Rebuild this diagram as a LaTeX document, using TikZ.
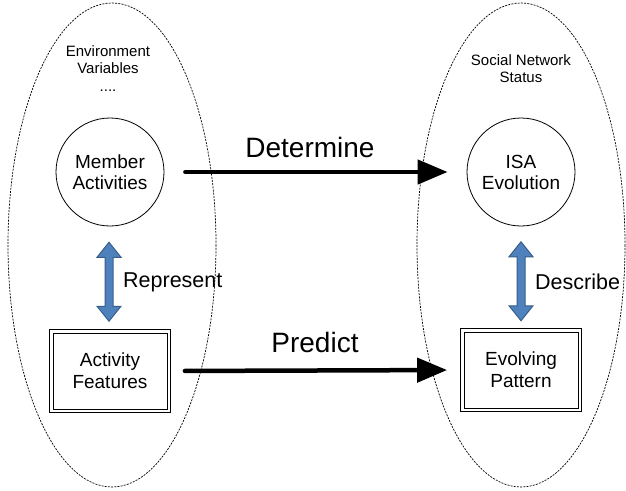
\documentclass[tikz,border=0pt]{standalone}
\usepackage{fontspec}
\setmainfont{Liberation Sans}
\usetikzlibrary{arrows.meta,calc}
\definecolor{arrowblue}{HTML}{4F81BD}
\definecolor{arrowedge}{HTML}{385D8A}
\begin{document}
\begin{tikzpicture}[x=1pt,y=-1pt,
  region/.style={draw, line width=0.7pt, dash pattern=on 2pt off 1.2pt},
  smalltext/.style={inner sep=0pt, align=center, font=\fontsize{15}{17.5}\selectfont},
  state/.style={circle, draw, line width=0.8pt, minimum size=108pt, inner sep=0pt, align=center, font=\fontsize{19}{21}\selectfont},
  feat/.style={draw, line width=0.8pt, minimum width=121pt, minimum height=83pt, inner sep=0pt, align=center, font=\fontsize{19}{22}\selectfont},
  innerframe/.style={draw, line width=0.8pt},
  biglabel/.style={inner sep=0pt, font=\fontsize{28}{32}\selectfont},
  sidelabel/.style={inner sep=0pt, font=\fontsize{21.5}{24}\selectfont},
  bigarrow/.style={line width=4.5pt, line cap=round, -{Triangle[length=30pt,width=24pt]}},
  dblarrow/.pic={\draw[fill=arrowblue, draw=arrowedge, line width=1pt, line join=miter]
    (0,-39.5) -- (12,-24.5) -- (4,-24.5) -- (4,24.5) -- (12,24.5) -- (0,39.5)
    -- (-12,24.5) -- (-4,24.5) -- (-4,-24.5) -- (-12,-24.5) -- cycle;}
]
\useasboundingbox (0,0) rectangle (626,490);
% regions
\draw[region] (112,245) ellipse [x radius=104, y radius=242];
\draw[region] (521,245) ellipse [x radius=104, y radius=242];
\node[smalltext, anchor=north] (env) at (108,45) {Environment\\Variables\\....};
\node[smalltext, anchor=north] (sns) at (521,54) {Social Network\\Status};
% nodes
\node[state] (ma) at (110,172) {Member\\Activities};
\node[state] (isa) at (521,172) {ISA\\Evolution};
\node[feat] (af) at (110,371) {Activity\\Features};
\draw[innerframe] ($(af.north west)+(4,4)$) rectangle ($(af.south east)+(-4,-4)$);
\node[feat] (ep) at (521,370) {Evolving\\Pattern};
\draw[innerframe] ($(ep.north west)+(4,4)$) rectangle ($(ep.south east)+(-4,-4)$);
% connectors
\draw[bigarrow, shorten <=21pt, shorten >=19pt] (ma) -- (isa);
\draw[bigarrow, shorten <=14pt, shorten >=13pt] (af.east) -- (ep.west);
\node[biglabel, anchor=base] (det) at (310,157) {Determine};
\node[biglabel, anchor=base] (pred) at (315,352) {Predict};
\pic at ($(ma.south)!0.5!(af.north)+(-1,4)$) {dblarrow};
\pic at ($(isa.south)!0.5!(ep.north)+(0,4)$) {dblarrow};
\node[sidelabel, anchor=base west] (rep) at (123,287) {Represent};
\node[sidelabel, anchor=base west] (desc) at (535,289) {Describe};
\end{tikzpicture}
\end{document}
